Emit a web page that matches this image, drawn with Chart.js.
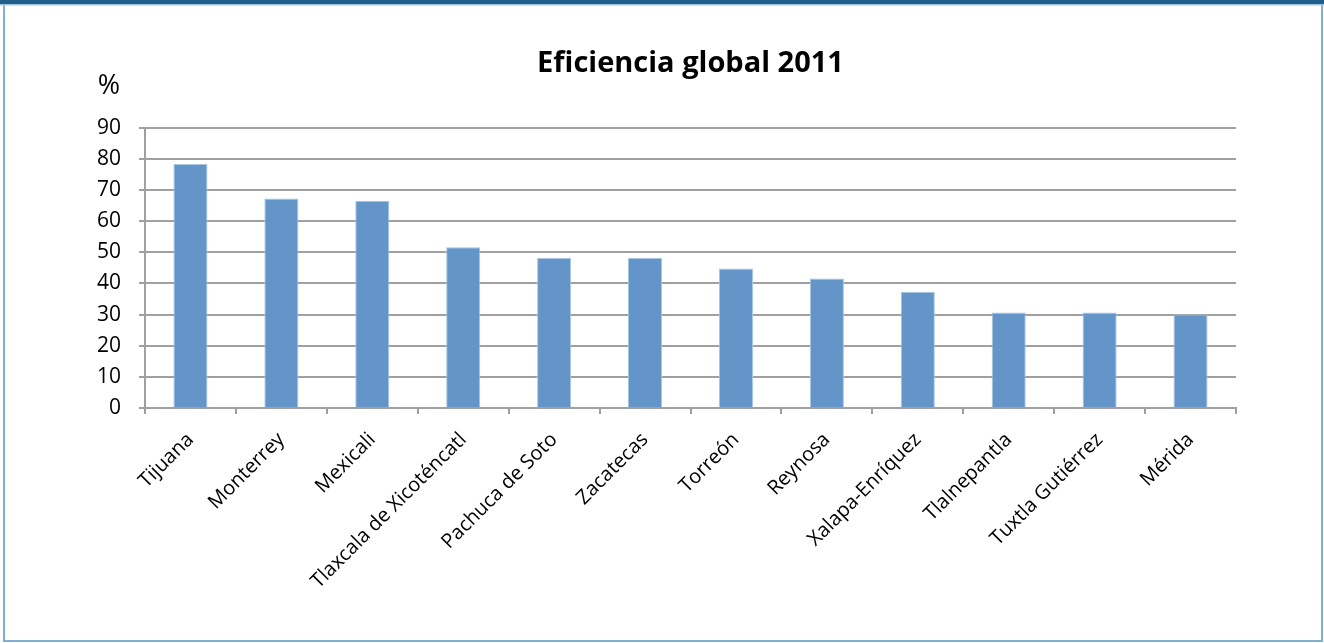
<!DOCTYPE html>
<html>
<head>
<meta charset="utf-8">
<script src="https://cdn.jsdelivr.net/npm/chart.js@4.4.0/dist/chart.umd.min.js"></script>
<style>
  html, body { margin: 0; padding: 0; background: #ffffff; }
  #wrap { position: absolute; left: 0; top: 0; width: 1324px; height: 643px; }
</style>
</head>
<body>
<div id="wrap"><canvas id="c" width="1324" height="643"></canvas></div>
<script>
const categories = ["Tijuana", "Monterrey", "Mexicali", "Tlaxcala de Xicoténcatl", "Pachuca de Soto", "Zacatecas", "Torreón", "Reynosa", "Xalapa-Enríquez", "Tlalnepantla", "Tuxtla Gutiérrez", "Mérida"];
const eficiencia = [78.4, 67.3, 66.6, 51.6, 48.2, 48.2, 44.8, 41.6, 37.3, 30.7, 30.7, 30.0];
const titleText = "Eficiencia global 2011";
const unitLabel = "%";
const yMin = 0, yMax = 90, yStep = 10;

const FONT = "'Open Sans', Lato, sans-serif";

const framePlugin = {
  id: 'frame',
  beforeDraw(chart) {
    const ctx = chart.ctx;
    ctx.save();
    ctx.fillStyle = '#ffffff';
    ctx.fillRect(0, 0, chart.width, chart.height);
    ctx.restore();
  },
  afterDraw(chart) {
    const ctx = chart.ctx;
    const w = chart.width, h = chart.height;
    ctx.save();
    ctx.strokeStyle = '#7fb0cf';
    ctx.lineWidth = 2;
    ctx.strokeRect(4, 4, w - 6, h - 6);
    ctx.fillStyle = '#1f5d8a';
    ctx.fillRect(0, 0, w, 4);
    ctx.fillStyle = '#9cc3dc';
    ctx.fillRect(0, 4, w, 1.5);
    const area = chart.chartArea;
    ctx.fillStyle = '#000000';
    ctx.font = "27px " + FONT;
    ctx.textAlign = 'center';
    ctx.textBaseline = 'middle';
    ctx.fillText(unitLabel, area.left - 36, area.top - 41);
    ctx.restore();
  }
};

new Chart(document.getElementById('c'), {
  type: 'bar',
  data: {
    labels: categories,
    datasets: [{
      label: titleText,
      data: eficiencia,
      backgroundColor: '#6395c9',
      borderColor: '#a8c5e4',
      borderWidth: 1,
      categoryPercentage: 1.0,
      barPercentage: 0.375
    }]
  },
  options: {
    responsive: false,
    animation: false,
    devicePixelRatio: 1,
    layout: { padding: { left: 0, right: 88, top: 0, bottom: 0 } },
    plugins: {
      legend: { display: false },
      tooltip: { enabled: false },
      title: {
        display: true,
        text: titleText,
        fullSize: false,
        color: '#000000',
        font: { family: FONT, size: 29, weight: 'bold' },
        padding: { top: 46, bottom: 47 }
      }
    },
    scales: {
      x: {
        grid: {
          display: true,
          offset: true,
          drawOnChartArea: false,
          drawTicks: true,
          tickLength: 6,
          color: '#a0a0a0',
          lineWidth: 2
        },
        border: { display: true, color: '#a0a0a0', width: 2 },
        ticks: {
          color: '#000000',
          font: { family: FONT, size: 20 },
          minRotation: 45,
          maxRotation: 45,
          autoSkip: false,
          padding: 14
        },
        afterFit(scale) { scale.height = 235; }
      },
      y: {
        min: yMin,
        max: yMax,
        grid: {
          color: '#a0a0a0',
          lineWidth: 2,
          drawTicks: true,
          tickLength: 6
        },
        border: { display: true, color: '#a0a0a0', width: 2 },
        ticks: {
          stepSize: yStep,
          color: '#000000',
          font: { family: FONT, size: 21 },
          padding: 18
        },
        afterFit(scale) { scale.width = 145; }
      }
    }
  },
  plugins: [framePlugin]
});
</script>
</body>
</html>
